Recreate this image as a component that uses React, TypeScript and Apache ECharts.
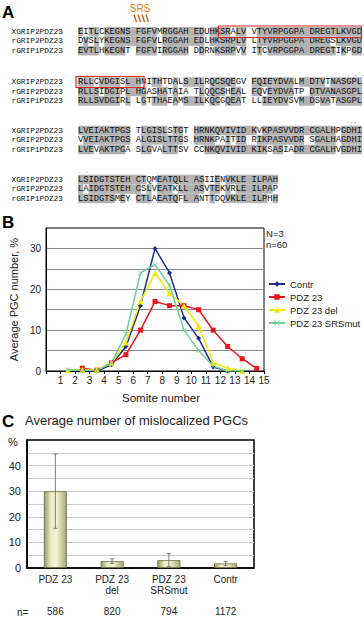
import React, { useEffect, useRef } from "react";
import * as echarts from "echarts";

// ---------- Panel A: alignment ----------
const ALIGN_NAMES = ["XGRIP2PDZ23", "rGRIP2PDZ23", "rGRIP1PDZ23"];
const ALIGN_BLOCK_1 = [
  "EITLCKEGNS FGFVMRGGAH EDUHKSRALV VTYVRPGGPA DREGTLKVGD",
  "DVSLYKEGNS FGFVLRGGAH EDLHKSRPLV LTYVRPGGPA DREGSLKVGD",
  "EVTLHKEGNT FGFVIRGGAH DDRNKSRPVV ITCVRPGGPA DREGTIKPGD",
];
const ALIGN_BLOCK_2 = [
  "RLLCVDGISL HNITHTDALS ILRQCSQEGV FQIEYDVALM DTVTNASGPL",
  "RLLSIDGIPL HGASHATAIA TLQQCSHEAL FQVEYDVATP DTVANASGPL",
  "RLLSVDGIRL LGTTHAEAMS ILKQCGQEAT LLIEYDVSVM DSVATASGPL",
];
const ALIGN_BLOCK_3 = [
  "LVEIAKTPGS TLGISLSTGT HRNKQVIVID KVKPASVVDR CGALHPGDHI",
  "VVEIAKTPGS ALGISLTTGS HRNKPAITID RIKPASVVDR SGALHAGDHI",
  "LVEVAKTPGA SLGVALTTSV CCNKQVIVID KIKSASIADR CGALHVGDHI",
];
const ALIGN_BLOCK_4 = [
  "LSIDGTSTEH CTQMEATQLL ASIIENVKLE ILPAH",
  "LAIDGTSTEH CSLVEATKLL ASVTEKVRLE ILPAP",
  "LSIDGTSMEY CTLAEATQFL ANTTDQVKLE ILPHH",
];
const ALIGN_BLOCKS = [ALIGN_BLOCK_1, ALIGN_BLOCK_2, ALIGN_BLOCK_3, ALIGN_BLOCK_4];

// ---------- Panel B: somite distribution ----------
const SOMITE_POS = [1.5, 2.5, 3.5, 4.5, 5.5, 6.5, 7.5, 8.5, 9.5, 10.5, 11.5, 12.5, 13.5, 14.5];
const CONTR = [null, 0, 0, 1.5, 6, 16, 30, 24, 13, 8, 1, 0, null, null];
const PDZ23 = [null, 0.7, 0.2, 2, 4, 10, 17, 16, 16, 15, 10, 6, 3, 0.6];
const PDZ23_DEL = [0.2, 0.3, 0.3, 2, 7, 17, 24, 19, 16, 11, 2, 0.7, 0, null];
const PDZ23_SRSMUT = [0.3, 0.2, 0.1, 2, 9, 24, 26, 21, 10, 5, 1.2, 0, 0, null];
const LINE_NAMES = ["Contr", "PDZ 23", "PDZ 23 del", "PDZ 23 SRSmut"];

// ---------- Panel C: mislocalized PGCs ----------
const BAR_CATS = ["PDZ 23", "PDZ 23\ndel", "PDZ 23\nSRSmut", "Contr"];
const BAR_VALUES = [30, 2.7, 3.1, 1.8];
const BAR_ERRORS = [14.5, 0.9, 2.6, 0.8];
const BAR_N = ["586", "820", "794", "1172"];

const SANS = "Liberation Sans, Arial, sans-serif";
const MONO = "Liberation Mono, DejaVu Sans Mono, monospace";

function buildAlignment(): any[] {
  const CW = 5.26;
  const SEQ_X = 78;
  const ROW_H = 9.5;
  const BLOCK_Y = [31.7, 82, 130.5, 179.5];
  const shades: any[] = [];
  const texts: any[] = [];
  ALIGN_BLOCKS.forEach((block, bi) => {
    const len = block[0].length;
    block.forEach((seq, r) => {
      const y = BLOCK_Y[bi] + r * ROW_H;
      const shaded: boolean[] = [];
      for (let c = 0; c < len; c++) {
        const ch = seq[c];
        if (ch === " ") { shaded.push(false); continue; }
        let same = 0;
        block.forEach((o, k) => { if (k !== r && o[c] === ch) same++; });
        shaded.push(same >= 1);
      }
      for (let c = 0; c < len; c++) {
        if (seq[c] === " " && c > 0 && c < len - 1 && shaded[c - 1] && shaded[c + 1]) shaded[c] = true;
      }
      let c = 0;
      while (c < len) {
        if (!shaded[c]) { c++; continue; }
        let e = c;
        while (e < len && shaded[e]) e++;
        shades.push({
          type: "rect", silent: true, z: 1,
          shape: { x: SEQ_X + c * CW, y: y - ROW_H / 2, width: (e - c) * CW, height: ROW_H },
          style: { fill: "#b3b3b3" },
        });
        c = e;
      }
      texts.push({
        type: "text", z: 3,
        style: { text: ALIGN_NAMES[r], x: 11.5, y, fontFamily: MONO, fontSize: 7.8, fill: "#111", verticalAlign: "middle" },
      });
      texts.push({
        type: "text", z: 3,
        style: { text: seq, x: SEQ_X, y, fontFamily: MONO, fontSize: 8.77, fill: "#111", verticalAlign: "middle" },
      });
    });
  });
  const marks = [
    { b: 1, c: 0, t: ". ." }, { b: 1, c: 51, t: ". . ." },
    { b: 2, c: 51, t: "---" }, { b: 3, c: 0, t: ". ." },
  ];
  marks.forEach((m) => {
    texts.push({
      type: "text", z: 3,
      style: { text: m.t, x: SEQ_X + m.c * CW, y: BLOCK_Y[m.b] - 8, fontFamily: MONO, fontSize: 6, fill: "#666", verticalAlign: "middle" },
    });
  });
  // red boxes
  texts.push({ type: "rect", z: 4, shape: { x: 218.3, y: 26, width: 143.2, height: 11.5 }, style: { fill: "none", stroke: "#e02424", lineWidth: 1.2 } });
  texts.push({ type: "rect", z: 4, shape: { x: 76, y: 76.5, width: 68, height: 11 }, style: { fill: "none", stroke: "#e02424", lineWidth: 1.2 } });
  // SRS label + arrows
  texts.push({ type: "text", z: 4, style: { text: "SRS", x: 140, y: 8, fontFamily: SANS, fontSize: 10, fill: "#e07b22", align: "center", verticalAlign: "middle" } });
  [134, 138, 142, 146].forEach((x) => {
    texts.push({ type: "line", z: 4, shape: { x1: x, y1: 14.5, x2: x + 2.5, y2: 22 }, style: { stroke: "#c8641e", lineWidth: 1.4 } });
  });
  return [...shades, ...texts];
}

function toPairs(vals: (number | null)[]) {
  const out: number[][] = [];
  vals.forEach((v, i) => { if (v !== null) out.push([SOMITE_POS[i], v]); });
  return out;
}

export default function App() {
  const ref = useRef<HTMLDivElement>(null);
  useEffect(() => {
    const chart = echarts.init(ref.current!, null, { renderer: "svg" });
    const lineSeries = [
      { name: "Contr", data: toPairs(CONTR), color: "#1c2d8f", symbol: "diamond", symbolSize: 5 },
      { name: "PDZ 23", data: toPairs(PDZ23), color: "#e8161b", symbol: "rect", symbolSize: 5 },
      { name: "PDZ 23 del", data: toPairs(PDZ23_DEL), color: "#f2ea00", symbol: "triangle", symbolSize: 6 },
      {
        name: "PDZ 23 SRSmut", data: toPairs(PDZ23_SRSMUT), color: "#6dd09c",
        symbol: "path://M0,1L1,0L5,4L9,0L10,1L6,5L10,9L9,10L5,6L1,10L0,9L4,5Z", symbolSize: 5,
      },
    ].map((s) => ({
      type: "line", name: s.name, data: s.data, xAxisIndex: 0, yAxisIndex: 0,
      symbol: s.symbol, symbolSize: s.symbolSize, showAllSymbol: true,
      lineStyle: { color: s.color, width: 1.5 }, itemStyle: { color: s.color },
      z: 3,
    }));

    const option: any = {
      animation: false,
      textStyle: { fontFamily: SANS },
      title: {
        text: "Average number of mislocalized PGCs",
        left: 25, top: 414, padding: 0,
        textStyle: { fontSize: 13, fontWeight: "normal", color: "#222", fontFamily: SANS },
      },
      legend: {
        data: LINE_NAMES, orient: "vertical", left: 268, top: 279, padding: 0,
        itemWidth: 16, itemHeight: 7, itemGap: 3,
        textStyle: { fontSize: 9.5, color: "#222", lineHeight: 10, fontFamily: SANS },
      },
      grid: [
        { left: 30, top: 228, width: 234, height: 143, show: true, borderColor: "#000", borderWidth: 1, backgroundColor: "#fff" },
        { left: 27, top: 440, width: 227, height: 128, show: true, borderColor: "#000", borderWidth: 1.5, backgroundColor: "#fff" },
      ],
      xAxis: [
        {
          type: "value", gridIndex: 0, min: 0, max: 15, interval: 1,
          name: "Somite number", nameLocation: "middle", nameGap: 21,
          nameTextStyle: { fontSize: 11.5, color: "#222", padding: [0, 0, 0, 12] },
          axisLine: { lineStyle: { color: "#000", width: 1 } },
          axisTick: { show: true, length: 3, lineStyle: { color: "#000" } },
          axisLabel: { fontSize: 10, color: "#222", margin: 4, formatter: (v: number) => (v === 0 ? "" : String(v)) },
          splitLine: { show: false },
        },
        {
          type: "category", gridIndex: 1, data: BAR_CATS,
          axisLine: { lineStyle: { color: "#000", width: 1.5 } },
          axisTick: { show: false },
          axisLabel: { fontSize: 10, color: "#222", margin: 6, lineHeight: 11 },
        },
        {
          type: "category", gridIndex: 1, data: BAR_N, position: "bottom", offset: 38,
          axisLine: { show: false }, axisTick: { show: false },
          axisLabel: { fontSize: 10, color: "#222", margin: 0 },
        },
      ],
      yAxis: [
        {
          type: "value", gridIndex: 0, min: 0, max: 35, interval: 5,
          name: "Average PGC number, %", nameLocation: "middle", nameGap: 17, nameRotate: 90,
          nameTextStyle: { fontSize: 11, color: "#222" },
          axisLine: { show: true, lineStyle: { color: "#000" } },
          axisTick: { show: false },
          axisLabel: { fontSize: 10, color: "#222", margin: 5, formatter: (v: number) => (v % 10 === 0 && v < 35 ? String(v) : "") },
          splitLine: { show: true, showMinLine: false, showMaxLine: false, lineStyle: { color: "#8c8c8c", width: 1 } },
        },
        {
          type: "value", gridIndex: 1, min: 0, max: 50, interval: 5,
          axisLine: { show: true, lineStyle: { color: "#000", width: 1.5 } },
          axisTick: { show: false },
          axisLabel: { fontSize: 11, color: "#222", margin: 6, formatter: (v: number) => (v % 10 === 0 && v < 50 ? String(v) : "") },
          splitLine: { show: true, showMinLine: false, showMaxLine: false, lineStyle: { color: "#cacaca", width: 1 } },
        },
      ],
      series: [
        ...lineSeries,
        {
          type: "bar", name: "mislocalized", xAxisIndex: 1, yAxisIndex: 1, data: BAR_VALUES, barWidth: 23,
          itemStyle: {
            color: new echarts.graphic.LinearGradient(0, 0, 1, 0, [
              { offset: 0, color: "#9a9a68" },
              { offset: 0.3, color: "#eeeec4" },
              { offset: 0.55, color: "#f4f4d0" },
              { offset: 1, color: "#a6a676" },
            ]),
            borderColor: "#6e6e44", borderWidth: 0.8,
          },
          z: 2,
        },
        {
          type: "custom", name: "error", xAxisIndex: 1, yAxisIndex: 1, z: 4,
          data: BAR_VALUES.map((v, i) => [i, v, BAR_ERRORS[i]]),
          encode: { x: 0, y: 1 },
          renderItem: (params: any, api: any) => {
            const i = api.value(0), v = api.value(1), e = api.value(2);
            const top = api.coord([i, v + e]);
            const bot = api.coord([i, Math.max(0, v - e)]);
            const style = { stroke: "#707070", lineWidth: 0.9 };
            const cap = 2;
            return {
              type: "group",
              children: [
                { type: "line", shape: { x1: top[0], y1: top[1], x2: bot[0], y2: bot[1] }, style },
                { type: "line", shape: { x1: top[0] - cap, y1: top[1], x2: top[0] + cap, y2: top[1] }, style },
                { type: "line", shape: { x1: bot[0] - cap, y1: bot[1], x2: bot[0] + cap, y2: bot[1] }, style },
              ],
            };
          },
        },
      ],
      graphic: [
        ...buildAlignment(),
        { type: "text", style: { text: "A", x: 2, y: 4, fontFamily: SANS, fontSize: 17, fontWeight: "bold", fill: "#000" } },
        { type: "text", style: { text: "B", x: 2, y: 214, fontFamily: SANS, fontSize: 17, fontWeight: "bold", fill: "#000" } },
        { type: "text", style: { text: "C", x: 2, y: 413, fontFamily: SANS, fontSize: 17, fontWeight: "bold", fill: "#000" } },
        { type: "text", style: { text: "N=3", x: 266, y: 233, fontFamily: SANS, fontSize: 9.5, fill: "#222", verticalAlign: "middle" } },
        { type: "text", style: { text: "n=60", x: 266, y: 244, fontFamily: SANS, fontSize: 9.5, fill: "#222", verticalAlign: "middle" } },
        { type: "text", style: { text: "%", x: 8, y: 442, fontFamily: SANS, fontSize: 11, fill: "#222", verticalAlign: "middle" } },
        { type: "text", style: { text: "n=", x: 17, y: 612, fontFamily: SANS, fontSize: 10, fill: "#222", verticalAlign: "middle" } },
      ],
    };
    chart.setOption(option);
    return () => chart.dispose();
  }, []);
  return <div ref={ref} style={{ position: "absolute", left: 0, top: 0, width: 364, height: 618, background: "#fff" }} />;
}
